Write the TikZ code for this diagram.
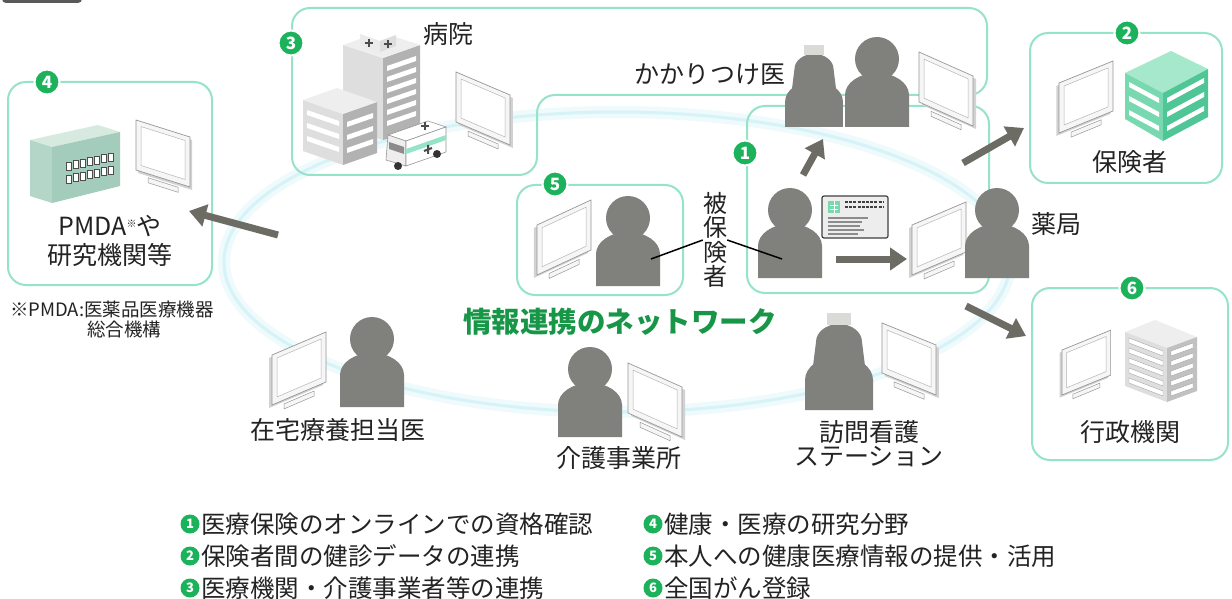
\documentclass[tikz,border=0pt]{standalone}
\usepackage{fontspec}
\setmainfont{Noto Sans CJK JP}
\usetikzlibrary{arrows.meta}

\tikzset{
  % gray silhouette of a person, origin at the bottom centre
  pics/person/.style={code={
    \fill[persongray] (-32,0) -- (-32,-32) arc[start angle=180,end angle=360,x radius=32,y radius=22] -- (32,0) -- cycle;
    \fill[persongray] (0,-68) circle[radius=22];
  }},
  % nurse with cap and hair
  pics/nurse/.style={code={
    \fill[persongray] (-34,0) -- (-34,-30) arc[start angle=180,end angle=360,x radius=34,y radius=24] -- (34,0) -- cycle;
    \fill[persongray] (-26,-44) -- (-23,-68) arc[start angle=180,end angle=360,x radius=23,y radius=18] -- (26,-44) -- cycle;
    \fill[capgray] (-12,-97) rectangle (12,-85);
  }},
  % flat screen, origin at the top left corner, #1 = drop of the right edge
  pics/monitor/.style={code={
    \fill[moncase] ({#1/8},3) -- ++(54,#1) -- ++(0,50) -- ++(-54,{-1*(#1)}) -- cycle;
    \filldraw[fill=monframe,draw=framegray,line width=0.5] (12,{54+0.22*(#1)}) -- (42,{54+0.78*(#1)}) -- (42,{59+0.78*(#1)}) -- (12,{59+0.22*(#1)}) -- cycle;
    \filldraw[fill=monframe,draw=framegray,line width=0.7] (0,0) -- (54,#1) -- (54,{50+#1}) -- (0,50) -- cycle;
    \filldraw[fill=white,draw=framegray!70,line width=0.5] (5,{5+0.09*(#1)}) -- (49,{5+0.91*(#1)}) -- (49,{44+0.91*(#1)}) -- (5,{44+0.09*(#1)}) -- cycle;
  }},
  grpbox/.style={draw=boxline, line width=2pt, rounded corners=18pt},
  badge/.style={circle, fill=badgegreen, draw=white, line width=2pt, text=white,
    font=\bfseries\fontsize{17}{17}\selectfont, inner sep=0pt, minimum size=25pt},
  keydot/.style={circle, fill=badgegreen, text=white,
    font=\bfseries\fontsize{13}{13}\selectfont, inner sep=0pt, minimum size=19pt},
  lbl/.style={text=textgray, font=\fontsize{25}{28}\selectfont, inner sep=0pt},
  keytext/.style={text=textgray, font=\fontsize{24.5}{26}\selectfont, inner sep=0pt, anchor=west},
  bigarrow/.style={draw=arrowgray, line width=7pt, -{Triangle[length=17pt,width=22pt]}},
}

\begin{document}
\begin{tikzpicture}[x=1pt,y=-1pt]
  % Colours
  \definecolor{persongray}{RGB}{128,128,125}
  \definecolor{capgray}{RGB}{218,218,214}
  \definecolor{boxline}{RGB}{150,228,200}
  \definecolor{badgegreen}{RGB}{28,178,92}
  \definecolor{titlegreen}{RGB}{22,150,70}
  \definecolor{ringcyan}{RGB}{214,243,247}
  \definecolor{ringglow}{RGB}{238,250,251}
  \definecolor{arrowgray}{RGB}{108,108,100}
  \definecolor{textgray}{RGB}{35,35,35}
  \definecolor{framegray}{RGB}{150,150,150}
  \definecolor{moncase}{RGB}{210,210,210}
  \definecolor{monframe}{RGB}{246,246,246}
  \definecolor{hosptop}{RGB}{238,238,238}
  \definecolor{hosplight}{RGB}{222,222,222}
  \definecolor{hospdark}{RGB}{178,178,178}
  \definecolor{mintop}{RGB}{165,232,203}
  \definecolor{minleft}{RGB}{120,216,176}
  \definecolor{minright}{RGB}{80,198,150}
  \definecolor{labtop}{RGB}{214,234,224}
  \definecolor{lableft}{RGB}{180,214,200}
  \definecolor{labfront}{RGB}{164,204,188}

  \useasboundingbox (0,0) rectangle (1232,599);
  \fill[white] (0,0) rectangle (1232,599);
  \fill[black!65, rounded corners=4pt] (2,-10) rectangle (82,3);

  % Network ring
  \draw[ringglow, line width=12pt] (617,262) ellipse[x radius=393, y radius=150];
  \draw[ringcyan, line width=3pt] (617,262) ellipse[x radius=393, y radius=150];

  % Group frames
  \draw[grpbox] (292,8) -- (987,8) -- (987,95) -- (537,95) -- (537,175) -- (292,175) -- cycle;
  \draw[grpbox] (747,106) rectangle (989,293);
  \draw[grpbox] (517,185) rectangle (683,295);
  \draw[grpbox] (8,82) rectangle (212,285);
  \draw[grpbox] (1030,33) rectangle (1222,183);
  \draw[grpbox] (1032,288) rectangle (1228,460);

  % Hospital: tower
  \fill[hosplight] (343,45) -- (383,58) -- (383,140) -- (343,127) -- cycle;
  \fill[hospdark] (383,58) -- (420,45) -- (420,128) -- (383,140) -- cycle;
  \fill[hosptop] (343,45) -- (380,32) -- (420,45) -- (383,58) -- cycle;
  \foreach \v in {0,...,5}
    \fill[white] (387,{66+11*\v}) -- (416,{56+11*\v}) -- (416,{61+11*\v}) -- (387,{71+11*\v}) -- cycle;
  % rooftop box with crosses
  \fill[white] (360,34) -- (376,28) -- (396,35) -- (380,41) -- cycle;
  \fill[hosplight!60] (360,34) -- (380,41) -- (380,52) -- (360,45) -- cycle;
  \fill[hosplight] (380,41) -- (396,35) -- (396,46) -- (380,52) -- cycle;
  \foreach \cx/\cy in {369/43, 388/44}
    \draw[black!70, line width=2.5pt] (\cx-4,\cy) -- (\cx+4,\cy) (\cx,\cy-4) -- (\cx,\cy+4);
  % Hospital: low block
  \fill[hosplight] (303,100) -- (343,114) -- (343,165) -- (303,151) -- cycle;
  \fill[hospdark] (343,114) -- (377,102) -- (377,153) -- (343,165) -- cycle;
  \fill[hosptop] (303,100) -- (337,88) -- (377,102) -- (343,114) -- cycle;
  \foreach \v in {0,1,2} {
    \fill[white] (307,{110+13*\v}) -- (339,{121+13*\v}) -- (339,{126+13*\v}) -- (307,{115+13*\v}) -- cycle;
    \fill[white] (347,{122+13*\v}) -- (373,{113+13*\v}) -- (373,{118+13*\v}) -- (347,{127+13*\v}) -- cycle;
  }
  % Ambulance
  \filldraw[fill=white, draw=framegray, line width=0.6] (388,135) -- (428,121) -- (446,127) -- (406,141) -- cycle;
  \filldraw[fill=hosptop, draw=framegray, line width=0.6] (388,135) -- (406,141) -- (406,166) -- (386,160) -- cycle;
  \filldraw[fill=white, draw=framegray, line width=0.6] (406,141) -- (446,127) -- (446,152) -- (406,166) -- cycle;
  \fill[boxline] (406,149) -- (446,135) -- (446,140) -- (406,154) -- cycle;
  \fill[black!45] (389,142) -- (404,147) -- (404,154) -- (389,149) -- cycle;
  \fill[black!80] (398,166) circle[radius=4] (437,154) circle[radius=4];
  \draw[black!70, line width=2pt] (421,126) -- (429,126) (425,122) -- (425,130);
  \draw[black!70, line width=2pt] (424,151) -- (432,148) (428,145) -- (428,154);
  \pic at (456,72) {monitor=23};

  % Clinic staff
  \pic[scale=0.85] at (814,127) {nurse};
  \pic at (877,127) {person};
  \pic at (919,52) {monitor=24};

  % Insurer building
  \fill[mintop] (1125,73) -- (1171,51) -- (1208,69) -- (1163,93) -- cycle;
  \fill[minleft] (1125,73) -- (1163,93) -- (1163,141) -- (1125,119) -- cycle;
  \fill[minright] (1163,93) -- (1208,69) -- (1208,117) -- (1163,141) -- cycle;
  \foreach \v in {7,21,35} {
    \fill[white] (1129,{75+\v}) -- (1159,{91+\v}) -- (1159,{96+\v}) -- (1129,{80+\v}) -- cycle;
    \fill[white] (1167,{91+\v}) -- (1204,{71+\v}) -- (1204,{76+\v}) -- (1167,{96+\v}) -- cycle;
  }
  \pic at (1059,83) {monitor=-22};

  % Insured person with card, pharmacy
  \pic at (790,278) {person};
  \filldraw[fill=black!7, draw=black!75, line width=1.2pt, rounded corners=2pt] (822,196) rectangle (888,238);
  \fill[minleft] (828,201) rectangle (840,213);
  \draw[white, line width=0.8] (830,205) -- (838,205) (830,209) -- (838,209) (834,201) -- (834,213);
  \foreach \y in {202,207}
    \draw[black!75, line width=2.5pt, dash pattern=on 3pt off 1.2pt] (845,\y) -- (884,\y);
  \foreach \y/\l in {218/868, 222/862, 226/860, 230/864, 234/858}
    \draw[black!45, line width=1.5pt] (828,\y) -- (\l,\y);
  \pic at (912,225) {monitor=-23};
  \pic at (997,278) {person};

  % Patient at home
  \pic at (537,225) {monitor=-25};
  \pic at (628,286) {person};

  % Research institute
  \fill[labtop] (30,140) -- (98,125) -- (120,132) -- (52,147) -- cycle;
  \fill[lableft] (30,140) -- (52,147) -- (52,203) -- (30,196) -- cycle;
  \fill[labfront] (52,147) -- (120,132) -- (120,186) -- (52,203) -- cycle;
  \foreach \r in {0,1}
    \foreach \i in {0,...,6}
      \filldraw[fill=white, draw=black!70, line width=0.6] ({66+7*\i},{162+13*\r-1.5*\i}) rectangle ++(5,8);
  \pic at (136,120) {monitor=17};

  % Government office
  \fill[hosptop] (1125,332) -- (1155,320) -- (1197,337) -- (1167,348) -- cycle;
  \fill[hosplight] (1125,332) -- (1167,348) -- (1167,402) -- (1125,386) -- cycle;
  \fill[hospdark!80] (1167,348) -- (1197,337) -- (1197,391) -- (1167,402) -- cycle;
  \foreach \v in {0,...,4} {
    \filldraw[fill=white, draw=black!35, line width=0.4] (1129,{338+10*\v}) -- (1163,{351+10*\v}) -- (1163,{356+10*\v}) -- (1129,{343+10*\v}) -- cycle;
    \filldraw[fill=white, draw=black!35, line width=0.4] (1171,{351+10*\v}) -- (1193,{343+10*\v}) -- (1193,{348+10*\v}) -- (1171,{356+10*\v}) -- cycle;
  }
  \pic[scale=0.9] at (1062,350) {monitor=-22};

  % Ring members
  \pic at (272,355) {monitor=-23};
  \pic at (372,407) {person};
  \pic at (590,437) {person};
  \pic at (628,363) {monitor=24};
  \pic at (839,410) {nurse};
  \pic at (882,323) {monitor=22};

  % Arrow end points
  \coordinate (upFrom) at (803,175);
  \coordinate (upTo) at (823,139);
  \coordinate (insFrom) at (963,163);
  \coordinate (insTo) at (1024,128);
  \coordinate (phFrom) at (836,259);
  \coordinate (phTo) at (907,259);
  \coordinate (govFrom) at (966,306);
  \coordinate (govTo) at (1026,336);
  \coordinate (labFrom) at (278,235);
  \coordinate (labTo) at (189,211);
  \coordinate (pFive) at (651,259);
  \coordinate (pOne) at (782,259);

  \draw[bigarrow] (upFrom) -- (upTo);
  \draw[bigarrow] (insFrom) -- (insTo);
  \draw[bigarrow] (phFrom) -- (phTo);
  \draw[bigarrow] (govFrom) -- (govTo);
  \draw[bigarrow] (labFrom) -- (labTo);

  % Badges
  \node[badge] (b1) at (745,153) {1};
  \node[badge] (b2) at (1127,33) {2};
  \node[badge] (b3) at (291,43) {3};
  \node[badge] (b4) at (47,82) {4};
  \node[badge] (b5) at (555,184) {5};
  \node[badge] (b6) at (1132,288) {6};

  % Labels
  \node[lbl] (hospital) at (448,34) {病院};
  \node[lbl] (clinic) at (710,75) {かかりつけ医};
  \node[lbl] (insurer) at (1130,162) {保険者};
  \node[lbl] (pharmacy) at (1056,224) {薬局};
  \node[lbl, align=center, font=\fontsize{24}{24.5}\selectfont] (insured) at (715,240) {被\\保\\険\\者};
  \draw[black, line width=1.5pt] (insured.west) -- (pFive);
  \draw[black, line width=1.5pt] (insured.east) -- (pOne);
  \node[lbl] (pmda) at (110,226) {PMDA\raisebox{8pt}{\fontsize{10}{10}\selectfont ※}や};
  \node[lbl] (research) at (110,255) {研究機関等};
  \node[lbl, font=\fontsize{18.5}{20}\selectfont] (note1) at (112,309) {※PMDA:医薬品医療機器};
  \node[lbl, font=\fontsize{18.5}{20}\selectfont] (note2) at (124,329) {総合機構};
  \node[text=titlegreen, font=\bfseries\fontsize{28.5}{30}\selectfont, inner sep=0pt] (network) at (620,322) {情報連携のネットワーク};
  \node[lbl] (homecare) at (338,430) {在宅療養担当医};
  \node[lbl] (careoffice) at (619,458) {介護事業所};
  \node[lbl] (visit1) at (869,432) {訪問看護};
  \node[lbl] (visit2) at (869,457) {ステーション};
  \node[lbl] (gov) at (1130,432) {行政機関};

  % Key
  \node[keydot] (k1) at (190,524) {1};
  \node[keydot] (k2) at (190,556) {2};
  \node[keydot] (k3) at (190,588) {3};
  \node[keydot] (k4) at (653,524) {4};
  \node[keydot] (k5) at (653,556) {5};
  \node[keydot] (k6) at (653,588) {6};
  \node[keytext] (t1) at (201,524) {医療保険のオンラインでの資格確認};
  \node[keytext] (t2) at (201,556) {保険者間の健診データの連携};
  \node[keytext] (t3) at (201,588) {医療機関・介護事業者等の連携};
  \node[keytext] (t4) at (664,524) {健康・医療の研究分野};
  \node[keytext] (t5) at (664,556) {本人への健康医療情報の提供・活用};
  \node[keytext] (t6) at (664,588) {全国がん登録};
\end{tikzpicture}
\end{document}
